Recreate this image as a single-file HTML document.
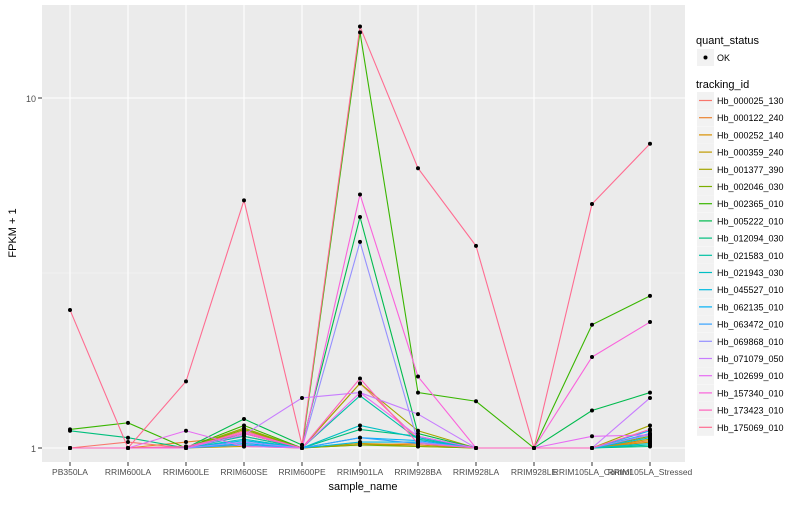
<!DOCTYPE html>
<html><head><meta charset="utf-8"><style>
body{margin:0;background:#fff;font-family:"Liberation Sans",sans-serif}
svg text{font-family:"Liberation Sans",sans-serif}
</style></head><body>
<svg id="chart" width="800" height="500" xmlns="http://www.w3.org/2000/svg">
<rect x="42" y="5" width="643" height="457" fill="#EBEBEB"/>
<g id="grid"></g><g id="lines"></g><g id="pts"></g><g id="axes"></g><g id="legend"></g>
</svg>
<script>
const samples=["PB350LA","RRIM600LA","RRIM600LE","RRIM600SE","RRIM600PE","RRIM901LA","RRIM928BA","RRIM928LA","RRIM928LE","RRIM105LA_Control","RRIM105LA_Stressed"];
const ids=["Hb_000025_130","Hb_000122_240","Hb_000252_140","Hb_000359_240","Hb_001377_390","Hb_002046_030","Hb_002365_010","Hb_005222_010","Hb_012094_030","Hb_021583_010","Hb_021943_030","Hb_045527_010","Hb_062135_010","Hb_063472_010","Hb_069868_010","Hb_071079_050","Hb_102699_010","Hb_157340_010","Hb_173423_010","Hb_175069_010"];
const colors=["#F8766D","#EA8331","#D89000","#C09B00","#A3A500","#7CAE00","#39B600","#00BB4E","#00BF7D","#00C1A3","#00BFC4","#00BAE0","#00B0F6","#35A2FF","#9590FF","#C77CFF","#E76BF3","#FA62DB","#FF62BC","#FF6C91"];
const yTicks=[1,10];
const v000025=[1,1.04,1,1.12,1,1.53,1.06,1,1,1,1.1];
const v000122=[1,1,1.04,1.08,1,1.02,1.03,1,1,1,1.05];
const v000252=[1,1,1.01,1.02,1,1.03,1.02,1,1,1,1.04];
const v000359=[1,1,1,1.01,1,1.03,1.01,1,1,1,1.06];
const v001377=[1,1,1,1.14,1,1.53,1.12,1,1,1,1.16];
const v002046=[1,1,1,1.13,1,1.02,1.01,1,1,1,1.08];
const v002365=[1.13,1.18,1,1.16,1,15.4,1.44,1.36,1,2.25,2.72];
const v005222=[1,1,1,1.21,1.02,4.57,1.1,1,1,1.28,1.44];
const v012094=[1.12,1.07,1,1.1,1,1.13,1.08,1,1,1,1.01];
const v021583=[1,1,1,1.08,1,1.41,1.06,1,1,1,1.02];
const v021943=[1,1,1,1.06,1,1.16,1.07,1,1,1,1.03];
const v045527=[1,1,1,1.05,1,1.04,1.04,1,1,1,1.07];
const v062135=[1,1,1,1.03,1,1.07,1.05,1,1,1,1.12];
const v063472=[1,1,1,1.02,1,1.07,1.03,1,1,1,1.1];
const v069868=[1,1,1,1.04,1,3.88,1.04,1,1,1,1.09];
const v071079=[1,1,1,1.09,1.39,1.44,1.25,1,1,1,1.39];
const v102699=[1,1,1.12,1.01,1,1.44,1.08,1,1,1.08,1.09];
const v157340=[1,1,1,1.11,1,5.3,1.6,1,1,1.82,2.29];
const v173423=[1,1,1.01,1.1,1,1.58,1.03,1,1,1,1.13];
const v175069=[2.48,1,1.55,5.1,1.02,16,6.3,3.78,1,4.98,7.4];
const series=[v000025,v000122,v000252,v000359,v001377,v002046,v002365,v005222,v012094,v021583,v021943,v045527,v062135,v063472,v069868,v071079,v102699,v157340,v173423,v175069];
const NS="http://www.w3.org/2000/svg";
function el(t,a,p){const e=document.createElementNS(NS,t);for(const k in a)e.setAttribute(k,a[k]);document.getElementById(p).appendChild(e);return e;}
const xS=i=>70+i*58;
const yS=v=>448-350*Math.log10(v);
// grid
[0.5,1.5].forEach(d=>{const y=448-350*d;const g=el("line",{x1:42,x2:685,y1:y,y2:y,stroke:"#F5F5F5","stroke-width":0.6},"grid");

});
yTicks.forEach(t=>{const g=el("line",{x1:42,x2:685,y1:yS(t),y2:yS(t),stroke:"#fff","stroke-width":1.1},"grid");


const tx=el("text",{x:36,y:yS(t)+4,"text-anchor":"end","font-size":9,fill:"#4D4D4D"},"axes");tx.textContent=t;


el("line",{x1:38,x2:42,y1:yS(t),y2:yS(t),stroke:"#333"},"axes");});
samples.forEach((s,i)=>{const g=el("line",{x1:xS(i),x2:xS(i),y1:5,y2:462,stroke:"#fff","stroke-width":1.1},"grid");


el("line",{x1:xS(i),x2:xS(i),y1:462,y2:466,stroke:"#333"},"axes");
const tx=el("text",{x:xS(i),y:475,"text-anchor":"middle","font-size":8.5,fill:"#4D4D4D"},"axes");tx.textContent=s;

});
series.forEach((vals,k)=>{const p=el("polyline",{points:vals.map((v,i)=>xS(i)+","+yS(v)).join(" "),fill:"none",stroke:colors[k],"stroke-width":1.1},"lines");


vals.forEach((v,i)=>{const c=el("circle",{cx:xS(i),cy:yS(v),r:2,fill:"#000"},"pts");

});});
let t=el("text",{x:363,y:490,"text-anchor":"middle","font-size":11,fill:"#000"},"axes");t.textContent="sample_name";


t=el("text",{x:16,y:233,"text-anchor":"middle","font-size":11,fill:"#000",transform:"rotate(-90 16 233)"},"axes");t.textContent="FPKM + 1";


// legend
t=el("text",{x:696,y:44,"font-size":11},"legend");t.textContent="quant_status";


el("rect",{x:697,y:49,width:17,height:17,fill:"#F2F2F2"},"legend");
el("circle",{cx:705.5,cy:57.5,r:2,fill:"#000"},"legend");
t=el("text",{x:717,y:61,"font-size":9},"legend");t.textContent="OK";


t=el("text",{x:696,y:88,"font-size":11},"legend");t.textContent="tracking_id";


ids.forEach((id,k)=>{const y=92+k*17.2;
el("rect",{x:697,y:y,width:17,height:17,fill:"#F2F2F2"},"legend");
el("line",{x1:699,x2:712,y1:y+8.5,y2:y+8.5,stroke:colors[k],"stroke-width":1.2},"legend");
const tx=el("text",{x:717,y:y+12,"font-size":9},"legend");tx.textContent=id;

});
</script>
</body></html>
